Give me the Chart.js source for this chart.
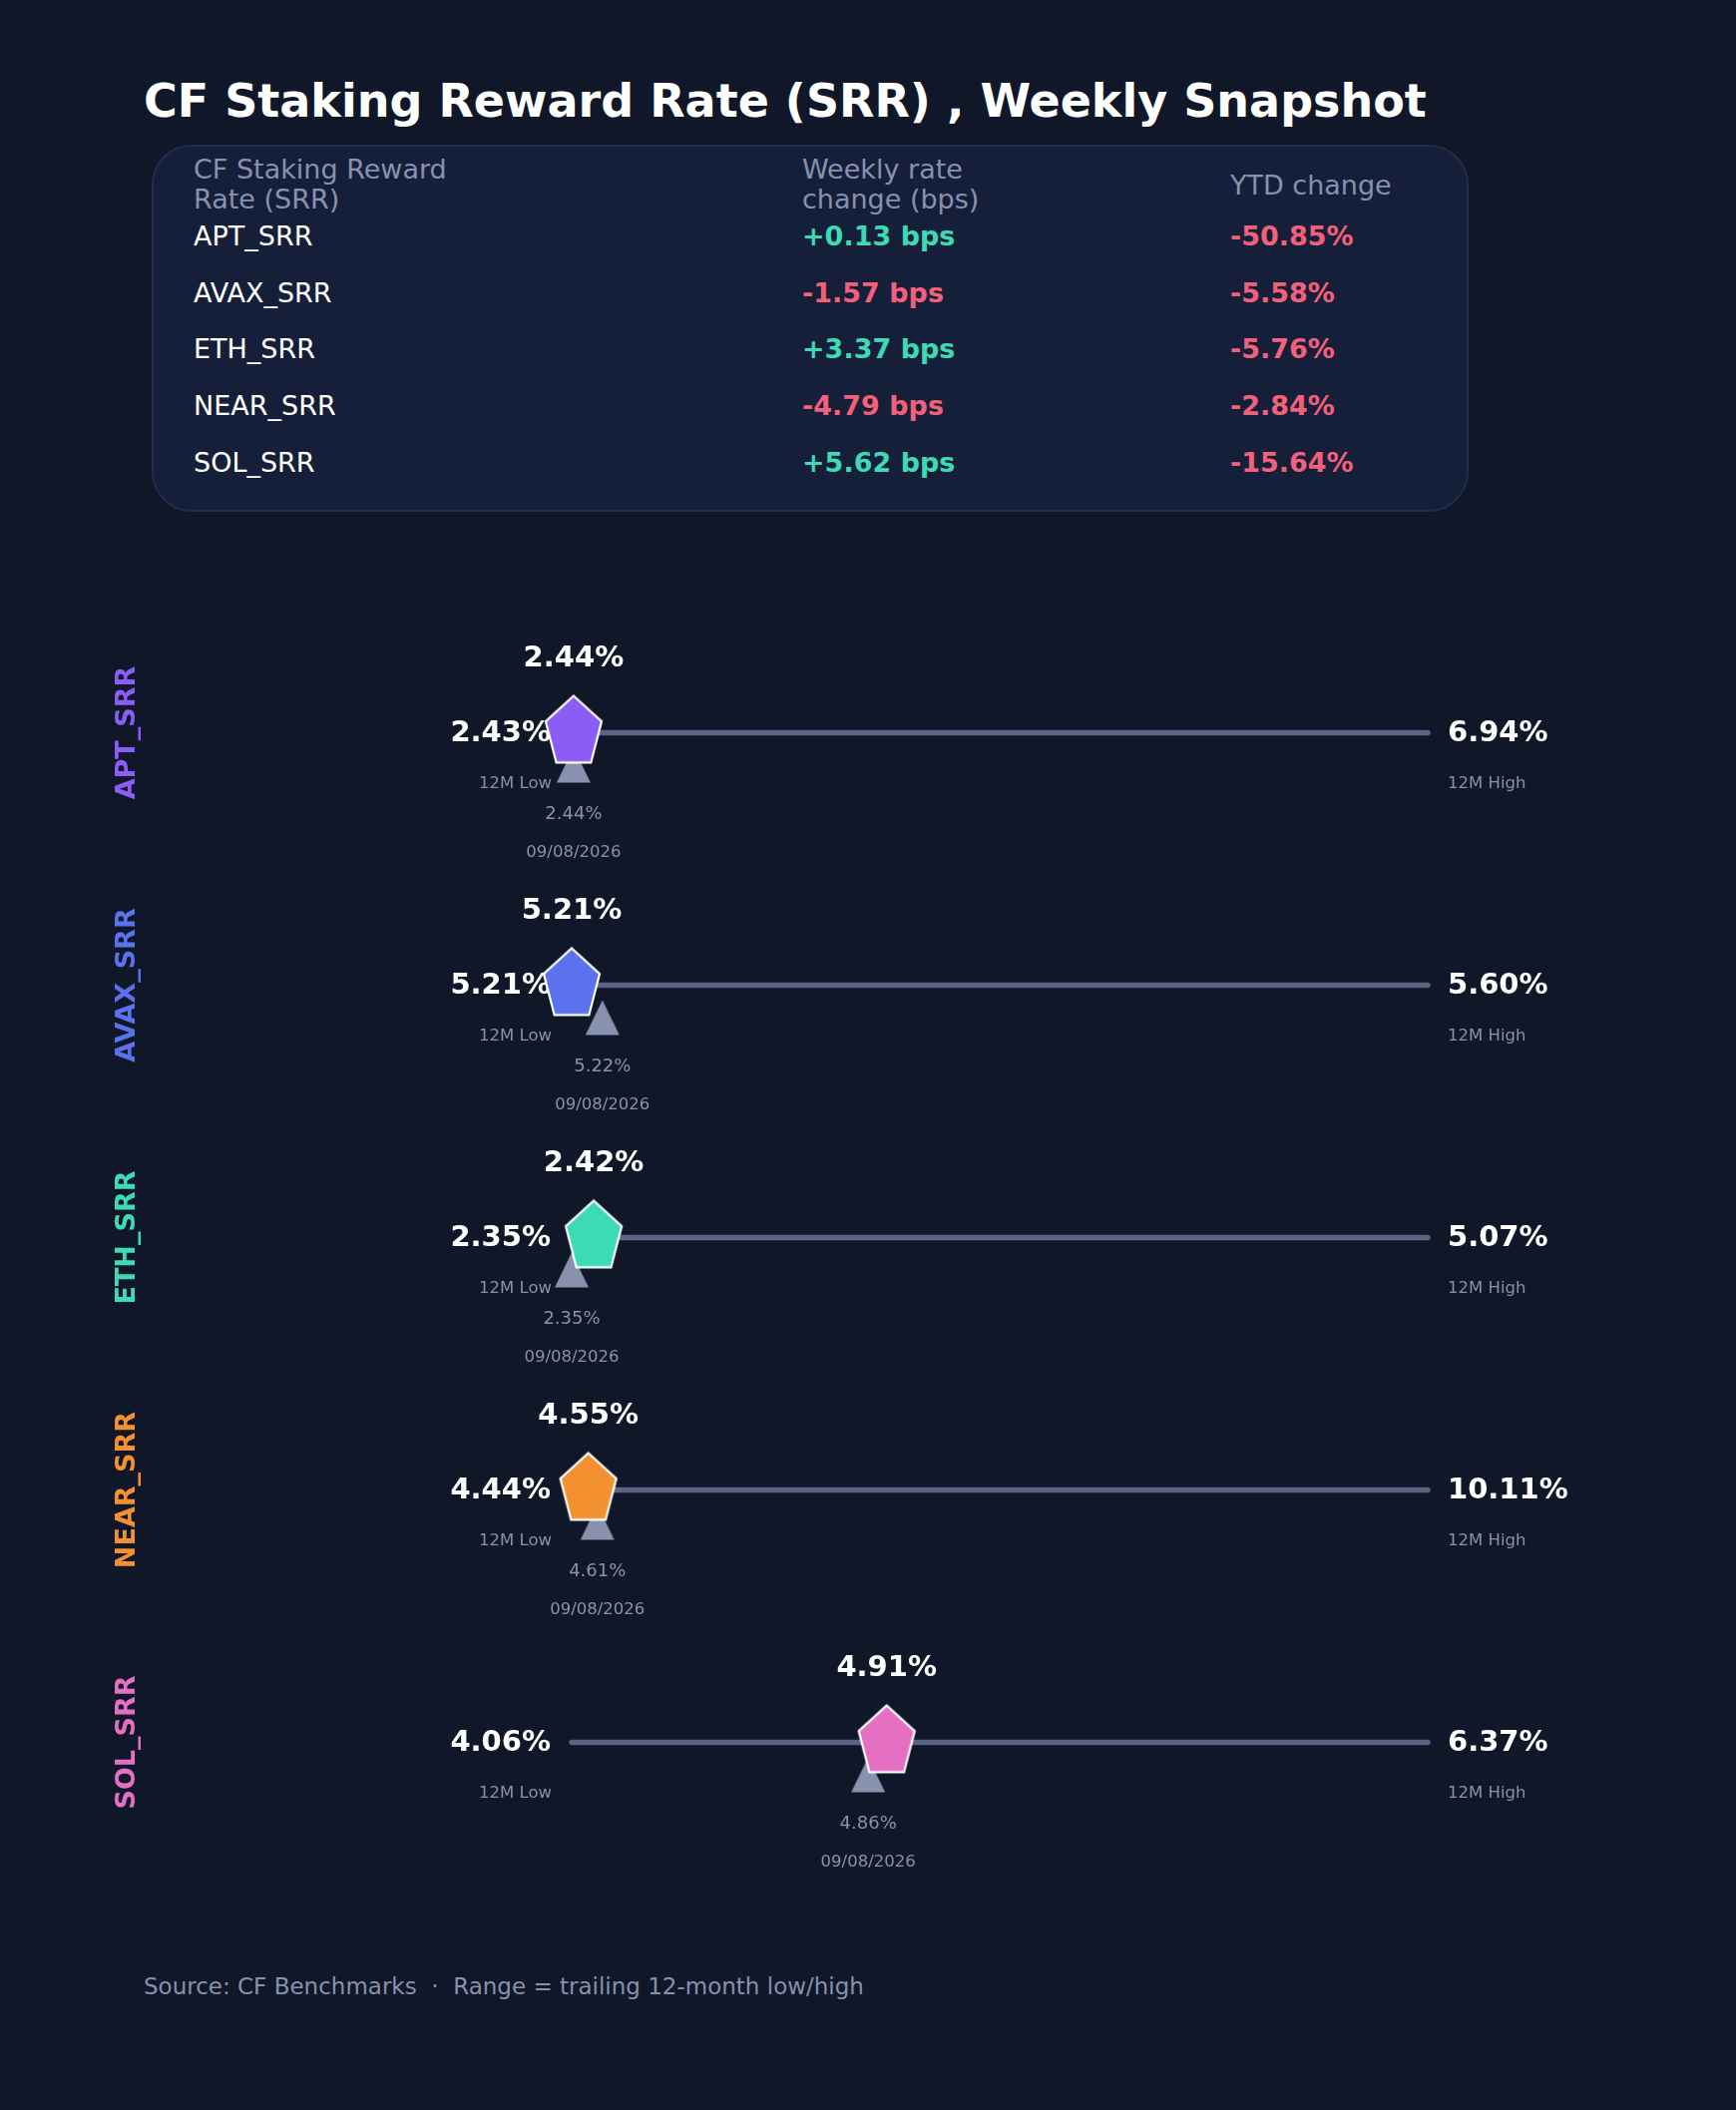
<!DOCTYPE html>
<html>
<head>
<meta charset="utf-8">
<script src="https://cdn.jsdelivr.net/npm/chart.js@4.4.1/dist/chart.umd.min.js"></script>
<style>
html,body{margin:0;padding:0;background:#0f1729;}
body{width:1740px;height:2115px;position:relative;overflow:hidden;font-family:"DejaVu Sans",sans-serif;}
.t{position:absolute;white-space:pre;line-height:1;}
#title{left:144px;top:78px;font-size:46px;font-weight:bold;color:#ffffff;}
#box{position:absolute;left:152px;top:145px;width:1316px;height:364px;border-radius:40px;background:#161f3a;border:2px solid #232d4b;}
.hd{color:#8891ad;font-size:27px;}
.nm{color:#ffffff;font-size:27px;}
.val{font-size:27px;font-weight:bold;}
#foot{left:144px;top:1980px;font-size:23px;color:#8891ad;}
canvas.row{position:absolute;left:0;}
</style>
</head>
<body>
<div id="title" class="t">CF Staking Reward Rate (SRR) , Weekly Snapshot</div>
<div id="box"></div>
<div class="t hd" style="left:194px;top:156px;">CF Staking Reward</div>
<div class="t hd" style="left:194px;top:186px;">Rate (SRR)</div>
<div class="t hd" style="left:804px;top:156px;">Weekly rate</div>
<div class="t hd" style="left:804px;top:186px;">change (bps)</div>
<div class="t hd" style="left:1233px;top:172px;">YTD change</div>
<div id="foot" class="t">Source: CF Benchmarks  ·  Range = trailing 12-month low/high</div>
<script>
// ---- data ----
const seriesNames = ['APT_SRR', 'AVAX_SRR', 'ETH_SRR', 'NEAR_SRR', 'SOL_SRR'];
const weeklyChangeBps = [0.13, -1.57, 3.37, -4.79, 5.62];
const ytdChangePct = [-50.85, -5.58, -5.76, -2.84, -15.64];
const low12m = [2.43, 5.21, 2.35, 4.44, 4.06];
const high12m = [6.94, 5.60, 5.07, 10.11, 6.37];
const currentRate = [2.44, 5.21, 2.42, 4.55, 4.91];
const priorRate = [2.44, 5.224, 2.35, 4.61, 4.86];
const priorDates = ['09/08/2026', '09/08/2026', '09/08/2026', '09/08/2026', '09/08/2026'];

// ---- styles ----
const seriesColors = ['#8b5cf6', '#5b72ee', '#3ddbb5', '#f39130', '#e56fc2'];
const POS = '#3ddbb5', NEG = '#f2607a';
const FONT = '"DejaVu Sans", sans-serif';
const MUTED = '#8891ad';

// ---- table ----
const rowCenters = [236, 293, 349, 406, 463];
seriesNames.forEach((n, i) => {
  const top = rowCenters[i] - 13.5;
  const a = document.createElement('div');
  a.className = 't nm'; a.style.left = '194px'; a.style.top = top + 'px'; a.textContent = n;
  document.body.appendChild(a);
  const w = weeklyChangeBps[i];
  const b = document.createElement('div');
  b.className = 't val'; b.style.left = '804px'; b.style.top = top + 'px';
  b.style.color = w >= 0 ? POS : NEG;
  b.textContent = (w >= 0 ? '+' : '') + w.toFixed(2) + ' bps';
  document.body.appendChild(b);
  const y = ytdChangePct[i];
  const c = document.createElement('div');
  c.className = 't val'; c.style.left = '1233px'; c.style.top = top + 'px';
  c.style.color = y >= 0 ? POS : NEG;
  c.textContent = (y >= 0 ? '+' : '') + y.toFixed(2) + '%';
  document.body.appendChild(c);
});

// ---- marker images ----
function pentagon(color) {
  const c = document.createElement('canvas');
  c.width = 68; c.height = 82;
  const g = c.getContext('2d');
  const cx = 34, cy = 41, rx = 29.5, ry = 37;
  g.beginPath();
  for (let k = 0; k < 5; k++) {
    const a = -Math.PI / 2 + k * 2 * Math.PI / 5;
    const px = cx + rx * Math.cos(a), py = cy + ry * Math.sin(a);
    k === 0 ? g.moveTo(px, py) : g.lineTo(px, py);
  }
  g.closePath();
  g.fillStyle = color; g.fill();
  g.lineWidth = 2.2; g.strokeStyle = '#ffffff'; g.lineJoin = 'miter'; g.stroke();
  return c;
}
function triangleBelow() {
  const c = document.createElement('canvas');
  c.width = 40; c.height = 110;
  const g = c.getContext('2d');
  g.beginPath();
  g.moveTo(20, 70); g.lineTo(37, 105); g.lineTo(3, 105); g.closePath();
  g.fillStyle = MUTED; g.fill();
  return c;
}
const triImg = triangleBelow();

// ---- labels plugin ----
const labelPlugin = {
  id: 'rangeLabels',
  beforeDatasetsDraw(chart, args, opts) {
    const i = opts.index;
    const { ctx, scales: { x, y } } = chart;
    const cy = y.getPixelForValue(0);
    const xl = x.getPixelForValue(low12m[i]);
    const xh = x.getPixelForValue(high12m[i]);
    ctx.save();
    ctx.textBaseline = 'middle';
    ctx.save();
    ctx.translate(128, cy);
    ctx.rotate(-Math.PI / 2);
    ctx.font = 'bold 27px ' + FONT;
    ctx.fillStyle = seriesColors[i];
    ctx.textAlign = 'center';
    ctx.fillText(seriesNames[i], 0, 0);
    ctx.restore();
    ctx.font = 'bold 29px ' + FONT;
    ctx.fillStyle = '#ffffff';
    ctx.textAlign = 'right';
    ctx.fillText(low12m[i].toFixed(2) + '%', xl - 21, cy + 1);
    ctx.textAlign = 'left';
    ctx.fillText(high12m[i].toFixed(2) + '%', xh + 20, cy + 1);
    ctx.font = '16.5px ' + FONT;
    ctx.fillStyle = MUTED;
    ctx.textAlign = 'right';
    ctx.fillText('12M Low', xl - 20, cy + 51);
    ctx.textAlign = 'left';
    ctx.fillText('12M High', xh + 20, cy + 51);
    ctx.restore();
  },
  afterDatasetsDraw(chart, args, opts) {
    const i = opts.index;
    const { ctx, scales: { x, y } } = chart;
    const cy = y.getPixelForValue(0);
    const xc = x.getPixelForValue(currentRate[i]);
    const xp = x.getPixelForValue(priorRate[i]);
    ctx.save();
    ctx.textBaseline = 'middle';
    ctx.textAlign = 'center';
    ctx.font = 'bold 29px ' + FONT;
    ctx.fillStyle = '#ffffff';
    ctx.fillText(currentRate[i].toFixed(2) + '%', xc, cy - 74);
    ctx.font = '18px ' + FONT;
    ctx.fillStyle = MUTED;
    ctx.fillText(priorRate[i].toFixed(2) + '%', xp, cy + 82);
    ctx.font = '16.5px ' + FONT;
    ctx.fillText(priorDates[i], xp, cy + 120);
    ctx.restore();
  }
};

// ---- charts ----
const ROW_H = 253, FIRST_TOP = 608;
seriesNames.forEach((n, i) => {
  const cv = document.createElement('canvas');
  cv.className = 'row';
  cv.width = 1740; cv.height = ROW_H;
  cv.style.top = (FIRST_TOP + i * ROW_H) + 'px';
  cv.style.width = '1740px'; cv.style.height = ROW_H + 'px';
  document.body.appendChild(cv);
  new Chart(cv, {
    type: 'line',
    data: {
      datasets: [
        {
          label: 'Current',
          data: [{ x: currentRate[i], y: 0 }],
          showLine: false,
          pointStyle: pentagon(seriesColors[i]),
          pointRadius: 30,
          order: 0,
          clip: false
        },
        {
          label: 'Prior week',
          data: [{ x: priorRate[i], y: 0 }],
          showLine: false,
          pointStyle: triImg,
          pointRadius: 20,
          order: 1,
          clip: false
        },
        {
          label: '12M range',
          data: [{ x: low12m[i], y: 0 }, { x: high12m[i], y: 0 }],
          borderColor: '#5a6585',
          borderWidth: 5.5,
          borderCapStyle: 'round',
          pointRadius: 0,
          order: 2,
          clip: false
        }
      ]
    },
    options: {
      responsive: false,
      animation: false,
      events: [],
      layout: { padding: { left: 573, right: 309, top: 0, bottom: 0 } },
      scales: {
        x: { type: 'linear', min: low12m[i], max: high12m[i], display: false },
        y: { type: 'linear', min: -1, max: 1, display: false }
      },
      plugins: {
        legend: { display: false },
        tooltip: { enabled: false },
        rangeLabels: { index: i }
      }
    },
    plugins: [labelPlugin]
  });
});
</script>
</body>
</html>
